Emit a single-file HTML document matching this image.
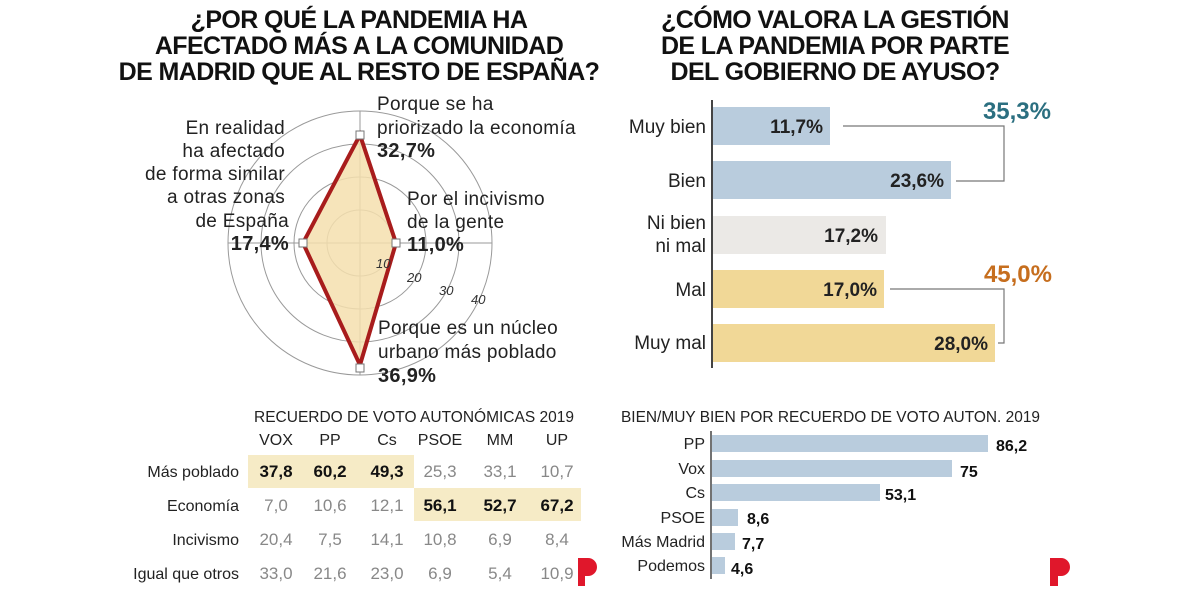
<!DOCTYPE html>
<html><head><meta charset="utf-8"><style>
body{margin:0;background:#fff;width:1200px;height:590px;overflow:hidden;font-family:"Liberation Sans",sans-serif}
</style></head><body>
<svg width="1200" height="590" xmlns="http://www.w3.org/2000/svg" font-family="Liberation Sans, sans-serif">
<g font-weight="bold" font-size="25" text-anchor="middle" fill="#111" letter-spacing="-0.6">
<text x="359" y="28">¿POR QUÉ  LA PANDEMIA HA</text>
<text x="359" y="54">AFECTADO MÁS A LA COMUNIDAD</text>
<text x="359" y="80">DE MADRID QUE AL RESTO DE ESPAÑA?</text>
<text x="835" y="28">¿CÓMO VALORA LA GESTIÓN</text>
<text x="835" y="54">DE LA PANDEMIA POR  PARTE</text>
<text x="835" y="80">DEL GOBIERNO DE AYUSO?</text>
</g>
<!-- radar -->
<g fill="none" stroke="#999" stroke-width="1">
<circle cx="360" cy="243" r="33"/><circle cx="360" cy="243" r="66"/><circle cx="360" cy="243" r="99"/><circle cx="360" cy="243" r="132"/>
<line x1="228" y1="243" x2="492" y2="243"/><line x1="360" y1="111" x2="360" y2="375"/>
</g>
<polygon points="360,135 396,243 360,365 303,243" fill="#f4dfae" fill-opacity="0.85" stroke="#a81c1c" stroke-width="4" stroke-linejoin="miter"/>
<g fill="#fff" stroke="#777" stroke-width="1">
<rect x="356" y="131" width="8" height="8"/><rect x="392" y="239" width="8" height="8"/><rect x="356" y="364" width="8" height="8"/><rect x="299" y="239" width="8" height="8"/>
</g>
<g font-size="13" font-style="italic" fill="#333">
<text x="376" y="268">10</text><text x="407" y="282">20</text><text x="439" y="295">30</text><text x="471" y="304">40</text>
</g>
<g font-size="19" fill="#222" letter-spacing="0.3">
<text x="377" y="110">Porque se ha</text><text x="377" y="134">priorizado la economía</text>
<text x="377" y="157" font-weight="bold" font-size="20">32,7%</text>
<text x="407" y="205">Por el incivismo</text><text x="407" y="228">de la gente</text>
<text x="407" y="251" font-weight="bold" font-size="20">11,0%</text>
<text x="378" y="334">Porque es un núcleo</text><text x="378" y="358">urbano más poblado</text>
<text x="378" y="382" font-weight="bold" font-size="20">36,9%</text>
<g text-anchor="end">
<text x="285" y="134">En realidad</text><text x="285" y="157">ha afectado</text><text x="285" y="180">de forma similar</text><text x="285" y="203">a otras zonas</text><text x="289" y="227">de España</text>
<text x="289" y="250" font-weight="bold" font-size="20">17,4%</text>
</g></g>
<!-- right bars -->
<line x1="712" y1="100" x2="712" y2="368" stroke="#444" stroke-width="2"/>
<rect x="713" y="107" width="117" height="38" fill="#b9ccdd"/>
<rect x="713" y="161" width="238" height="38" fill="#b9ccdd"/>
<rect x="713" y="216" width="173" height="38" fill="#ebe9e6"/>
<rect x="713" y="270" width="171" height="38" fill="#f1d897"/>
<rect x="713" y="324" width="282" height="38" fill="#f1d897"/>
<g font-size="19" fill="#222" text-anchor="end">
<text x="706" y="133">Muy bien</text><text x="706" y="187">Bien</text>
<text x="706" y="229">Ni bien</text><text x="706" y="252">ni mal</text>
<text x="706" y="296">Mal</text><text x="706" y="349">Muy mal</text>
<g font-weight="bold"><text x="823" y="133">11,7%</text><text x="944" y="187">23,6%</text><text x="878" y="242">17,2%</text><text x="877" y="296">17,0%</text><text x="988" y="350">28,0%</text></g>
</g>
<g fill="none" stroke="#777" stroke-width="1.2">
<polyline points="843,126 1004,126 1004,181 956,181"/>
<polyline points="890,289 1004,289 1004,343 998,343"/>
</g>
<text x="1051" y="119" font-size="24" font-weight="bold" fill="#2b6f80" text-anchor="end">35,3%</text>
<text x="1052" y="282" font-size="24" font-weight="bold" fill="#c66e1e" text-anchor="end">45,0%</text>
<!-- left table -->
<rect x="248" y="455" width="166" height="33" fill="#f6ebc6"/>
<rect x="414" y="488" width="167" height="33" fill="#f6ebc6"/>
<g font-size="16" fill="#222">
<text x="254" y="422" textLength="320" lengthAdjust="spacingAndGlyphs">RECUERDO DE VOTO AUTONÓMICAS 2019</text>
<g text-anchor="middle"><text x="276" y="445">VOX</text><text x="330" y="445">PP</text><text x="387" y="445">Cs</text><text x="440" y="445">PSOE</text><text x="500" y="445">MM</text><text x="557" y="445">UP</text></g>
<g text-anchor="end"><text x="239" y="477">Más poblado</text><text x="239" y="511">Economía</text><text x="239" y="545">Incivismo</text><text x="239" y="579">Igual que otros</text></g>
</g>
<g font-size="17" text-anchor="middle" fill="#888">
<g font-weight="bold" fill="#111"><text x="276" y="477">37,8</text><text x="330" y="477">60,2</text><text x="387" y="477">49,3</text><text x="440" y="511">56,1</text><text x="500" y="511">52,7</text><text x="557" y="511">67,2</text></g>
<text x="440" y="477">25,3</text><text x="500" y="477">33,1</text><text x="557" y="477">10,7</text>
<text x="276" y="511">7,0</text><text x="330" y="511">10,6</text><text x="387" y="511">12,1</text>
<text x="276" y="545">20,4</text><text x="330" y="545">7,5</text><text x="387" y="545">14,1</text><text x="440" y="545">10,8</text><text x="500" y="545">6,9</text><text x="557" y="545">8,4</text>
<text x="276" y="579">33,0</text><text x="330" y="579">21,6</text><text x="387" y="579">23,0</text><text x="440" y="579">6,9</text><text x="500" y="579">5,4</text><text x="557" y="579">10,9</text>
</g>
<!-- logos -->
<g fill="#e0172b">
<path d="M578,558 h10 a9,9 0 0 1 0,18 h-3 v10 h-7 z"/>
<path d="M1050,558 h11 a9,9 0 0 1 0,18 h-3 v10 h-8 z"/>
</g>
<!-- bottom right bars -->
<text x="621" y="422" font-size="16" fill="#222" textLength="419" lengthAdjust="spacingAndGlyphs">BIEN/MUY BIEN POR RECUERDO DE VOTO AUTON. 2019</text>
<line x1="711" y1="431" x2="711" y2="579" stroke="#444" stroke-width="1.5"/>
<g fill="#b9ccdd">
<rect x="712" y="435" width="276" height="17"/><rect x="712" y="460" width="240" height="17"/><rect x="712" y="484" width="168" height="17"/>
<rect x="712" y="509" width="26" height="17"/><rect x="712" y="533" width="23" height="17"/><rect x="712" y="557" width="13" height="17"/>
</g>
<g font-size="16" fill="#222" text-anchor="end">
<text x="705" y="449">PP</text><text x="705" y="474">Vox</text><text x="705" y="498">Cs</text><text x="705" y="523">PSOE</text><text x="705" y="547">Más Madrid</text><text x="705" y="571">Podemos</text>
</g>
<g font-size="16" font-weight="bold" fill="#111">
<text x="996" y="451">86,2</text><text x="960" y="477">75</text><text x="885" y="500">53,1</text><text x="747" y="524">8,6</text><text x="742" y="549">7,7</text><text x="731" y="574">4,6</text>
</g>
</svg>
</body></html>
